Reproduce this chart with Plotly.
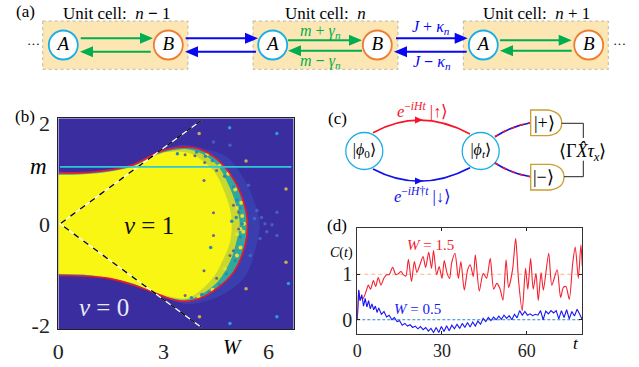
import numpy as np
import plotly.graph_objects as go

FONT = "Liberation Serif"
# ---------- panel (b) read-off data ----------
red_W = [0.03,0.71,1.48,2.14,2.71,3.10,3.62,4.05,4.52,5.00,5.29,5.40,5.33,5.00,4.52,4.05,3.62,3.19,2.76,2.14,1.48,0.71,0.03]
red_m = [0.97,0.97,1.02,1.12,1.31,1.41,1.45,1.41,1.23,0.85,0.41,0.0,-0.41,-0.92,-1.23,-1.41,-1.47,-1.42,-1.31,-1.16,-1.04,-0.99,-0.98]
yel_W = [0,0.71,1.48,2.14,2.71,3.1,3.67,4.05,4.43,4.71,4.9,4.95,4.9,4.71,4.43,4.05,3.67,3.19,2.71,2.14,1.48,0.71,0]
yel_m = [0.93,0.94,0.99,1.09,1.27,1.36,1.35,1.23,1.01,0.66,0.28,0,-0.35,-0.67,-1.01,-1.27,-1.41,-1.38,-1.29,-1.13,-1.03,-0.96,-0.95]
mid_W = [2.7,3.6,4.1,4.55,4.9,5.1,5.18,5.1,4.9,4.55,4.1,3.6,2.7]
mid_m = [1.3,1.42,1.33,1.1,0.68,0.3,0,-0.3,-0.72,-1.1,-1.33,-1.44,-1.3]
out_W = [2.9,3.6,4.2,4.8,5.3,5.6,5.75,5.65,5.35,4.8,4.2,3.6,2.9]
out_m = [1.40,1.5,1.42,1.27,0.85,0.41,0,-0.41,-0.98,-1.3,-1.47,-1.52,-1.33]
tan_W = [4.02,5.36,6.5,6.5,5.36,4.03]
tan_m = [1.71,1.19,0.66,-0.73,-1.23,-1.76]
blue_W = [6.24,4.89,6.57,6.24,4.9]
blue_m = [1.71,1.82,-1.13,-1.76,-1.89]
faint_W = [5.9,6.1,6.24,6.24,5.67,5.76,5.48,5.43,4.9,4.43,5.6,5.8,5.95]
faint_m = [0,-0.02,0.22,-0.22,0.25,-0.28,-0.6,0.73,1.49,1.55,0.1,0.12,-0.15]
dark_W = [4.18,4.16,4.43,4.43,4.16,3.62,3.9,4.52,5.0,5.15,5.15,5.0,4.9,4.52,3.62]
dark_m = [1.16,0.82,0.21,-0.22,-0.89,1.31,1.29,1.01,0.35,0.22,-0.1,-0.51,-0.6,-1.03,-1.36]
teal_W = [4.4,4.75,5.0,5.1,5.2,5.25,5.2,5.05,4.8,4.6,4.3,4.35,4.95,5.08,4.2,3.95,3.4,3.8,4.1]
teal_m = [1.2,0.9,0.7,0.45,0.3,0,-0.25,-0.7,-0.95,-1.15,-1.3,-0.45,0.05,0.12,1.28,1.36,1.33,-1.4,-1.34]
spark_W = [5.25,5.2,5.1,5.22,5.28,5.2,5.1,5.05,4.85,4.75,4.6,4.4,4.25,4.0,5.3,5.1]
spark_m = [0.15,-0.1,0.3,0.4,-0.15,-0.45,-0.6,0.65,0.95,-0.85,1.1,-1.25,1.32,-1.38,0.0,-0.2]
# ---------- panel (d) read-off data ----------
red_t = [0,.47,.94,1.5,2.1,3.1,3.9,4.7,5.7,6.5,7.4,8.4,9.4,10.4,11.3,12.5,13.7,14.5,15.5,16.3,17.2,18.1,19.2,20.2,21.1,22.2,23.3,24.2,25.3,26.3,27,28.1,29,30,30.8,31.8,32.7,33.4,34.6,35.8,36.7,37.9,39.1,40,41.1,41.8,43.2,44.6,45.8,47.1,48.3,49.4,50.5,51.6,52.7,53.6,55,56.1,57.1,58.4,59.6,60.4,61.4,62.3,63.3,64.1,65.1,65.9,67.8,68.9,70.8,72,73,73.9,75.1,76.3,77.2,78.3,79.2,79.7]
red_C = [-.01,.65,.43,.49,.47,.62,.76,.67,.86,.73,.93,.76,.91,.99,.99,1.15,.99,1.01,1.06,.99,.96,1.33,.84,1.28,1.04,1.21,1.39,1.15,1.48,1.13,1.52,.99,1.17,.91,1.30,1.02,.91,1.24,1.46,.91,1.28,.65,1.10,1.21,.95,1.43,.63,1.02,.91,1.35,.67,.80,.69,.43,1.32,.71,1.10,1.79,.88,.20,1.13,.67,1.35,.67,1.02,.42,1.04,.65,1.46,.76,1.10,.49,.71,.73,.45,1.24,1.60,.91,1.65,1.17]
blue_C_head = [0,.65,.42,.55,.30,.47,.28,.42,.24,.35,.22,.30,.16]
blue_t_head = [0,.5,1,1.6,2.2,2.8,3.4,4,4.6,5.2,5.8,6.4,7]
blue_C_tail = [.26,.12,.18,.06,.10,0,.05,-.04,-.02,-.12,-.08,-.14,-.11,-.17,-.14,-.2,-.15,-.22,-.17,-.25,-.19,-.28,-.17,-.28,-.15,-.26,-.13,-.24,-.12,-.2,-.1,-.19,-.08,-.17,-.06,-.16,-.05,-.14,-.03,-.1,.03,-.04,.05,-.02,.06,0,.08,.01,.1,.03,.09,0,.12,.04,.2,.1,.18,.1,.13,.09,.12,.1,.2,0,.19,.13,.2,.15,.2,.02,.2,.05,.22,.02,.18,.08,.23,.12,0]
blue_t = blue_t_head + list(np.linspace(7.6, 79.7, len(blue_C_tail)))
blue_C = blue_C_head + blue_C_tail
# ---------- schematic nodes ----------
node_x = [63.3,168.3,272.7,377.3,483.3,588.7]
node_y = [45]*6
node_txt = ["A","B","A","B","A","B"]
W_PX = 639; H_PX = 367
def dx(a,b): return [a/W_PX, b/W_PX]
def dy(top,bot): return [1-bot/H_PX, 1-top/H_PX]

fig = go.Figure()
def filled(xs, ys, col, op=1.0, shape="spline"):
    fig.add_trace(go.Scatter(x=xs, y=ys, mode="lines", fill="toself", fillcolor=col, opacity=op,
                             line=dict(width=0, shape=shape), hoverinfo="skip", showlegend=False, xaxis="x", yaxis="y"))
def dots(xs, ys, col, size, op=1.0):
    fig.add_trace(go.Scatter(x=xs, y=ys, mode="markers", marker=dict(color=col, size=size, opacity=op, line=dict(width=0)),
                             showlegend=False, xaxis="x", yaxis="y"))
filled([0,6.72,6.72,0],[-2,-2,2,2],"#3A2D9F",1.0,"linear")
filled(out_W, out_m, "#3E68D0", 0.3)
filled(red_W, red_m, "#2FA8A0")
filled(mid_W, mid_m, "#C8D82C")
filled(yel_W, yel_m, "#FAF614")
dots(faint_W, faint_m, "#4A80D8", 3.5, 0.6)
dots(spark_W, spark_m, "#E8E030", 4)
dots(tan_W, tan_m, "#C8AC58", 3.5)
dots(blue_W, blue_m, "#2C9CD8", 3.5)
dots(teal_W, teal_m, "#2C8CB0", 3.5)
dots(dark_W, dark_m, "#6C6490", 3)
fig.add_trace(go.Scatter(x=red_W, y=red_m, mode="lines", line=dict(color="#F01428", width=1.6, shape="spline"), showlegend=False))
wedge_W = [4.08,0.05,4.08]; wedge_m = [1.96,0,-1.96]
fig.add_trace(go.Scatter(x=wedge_W, y=wedge_m, mode="lines", line=dict(color="white", width=1.3), showlegend=False))
fig.add_trace(go.Scatter(x=wedge_W, y=wedge_m, mode="lines", line=dict(color="black", width=1.3, dash="6px,6px"), showlegend=False))
fig.add_trace(go.Scatter(x=[0.05,6.65], y=[1.08,1.08], mode="lines", line=dict(color="#2CC8D8", width=1.6), showlegend=False))

# panel (d)
fig.add_trace(go.Scatter(x=[0,79.7], y=[1,1], mode="lines", xaxis="x2", yaxis="y2", line=dict(color="#F8B48C", width=1, dash="4px,3px"), showlegend=False))
fig.add_trace(go.Scatter(x=[0,79.7], y=[0,0], mode="lines", xaxis="x2", yaxis="y2", line=dict(color="#2E86C8", width=1, dash="3px,2px"), showlegend=False))
fig.add_trace(go.Scatter(x=red_t, y=red_C, mode="lines", xaxis="x2", yaxis="y2", line=dict(color="#F42030", width=1.1, shape="spline", smoothing=0.7), showlegend=False))
fig.add_trace(go.Scatter(x=blue_t, y=blue_C, mode="lines", xaxis="x2", yaxis="y2", line=dict(color="#1818F0", width=1.1), showlegend=False))

# schematic nodes (overlay in figure px units)
fig.add_trace(go.Scatter(x=node_x, y=node_y, mode="markers+text", xaxis="x3", yaxis="y3",
    marker=dict(size=29, color="white", line=dict(width=1.8, color=["#1AAEE6","#EE7D31"]*3)),
    text=["<i>%s</i>"%t for t in node_txt], textposition="middle center",
    textfont=dict(family=FONT, size=19, color="black"), showlegend=False))
fig.add_trace(go.Scatter(x=[364.3,480.7], y=[151,151], mode="markers+text", xaxis="x3", yaxis="y3",
    marker=dict(size=37, color="white", line=dict(width=1.3, color="#1AAEE6")),
    text=["|<i>ϕ</i><sub>0</sub>⟩","|<i>ϕ<sub>t</sub></i>⟩"], textposition="middle center",
    textfont=dict(family=FONT, size=16, color="black"), showlegend=False))

shapes = []
def s(**k):
    k.setdefault("xref","x3"); k.setdefault("yref","y3"); shapes.append(k)
for x0,x1 in [(42.7,188),(253,398),(463.3,608.3)]:
    s(type="rect",x0=x0,x1=x1,y0=21,y1=69.3,fillcolor="#FCE7B4",line=dict(color="#A8A8A0",width=0.8,dash="dot"),layer="below")
def arrow(x0,x1,y,col):
    d = 1 if x1>x0 else -1
    s(type="line",x0=x0,x1=x1-d*10,y0=y,y1=y,line=dict(color=col,width=2))
    s(type="path",path=f"M {x1} {y} L {x1-d*13} {y-5.5} L {x1-d*13} {y+5.5} Z",fillcolor=col,line=dict(width=0))
G="#00AE50"; B="#0808F0"
arrow(80.7,153,38.3,G); arrow(150.7,80,51.7,G)
arrow(185.7,258,38.3,B); arrow(256,185,51.7,B)
arrow(288,362,40.3,G); arrow(362,288,50.7,G)
arrow(396,467.7,38.3,B); arrow(466.7,394,51.7,B)
arrow(500,571.7,40.3,G); arrow(571.7,500,50.7,G)
# (c) curves
s(type="path",path="M 373 132.7 Q 420 107 470 134",line=dict(color="#F51428",width=1.6))
s(type="path",path="M 373 169 Q 420 194 470 167.7",line=dict(color="#1010E8",width=1.8))
s(type="path",path="M 423 120 L 415 116.5 L 415 123.5 Z",fillcolor="#F51428",line=dict(width=0))
s(type="path",path="M 423 181 L 415 177.5 L 415 184.5 Z",fillcolor="#1010E8",line=dict(width=0))
for p in ["M 495 136.7 Q 512 126 530.7 122.7","M 495 163 Q 512 174 530.7 176.7"]:
    s(type="path",path=p,line=dict(color="#1010E8",width=1.6))
    s(type="path",path=p,line=dict(color="#F51428",width=1.6,dash="4px,5px"))
s(type="path",path="M 530.7 110 L 548 110 Q 561.7 112 561.7 123 Q 561.7 134 548 135.7 L 530.7 135.7 Z",fillcolor="white",line=dict(color="#C8A030",width=1.3))
s(type="path",path="M 530.7 164.3 L 550 164.3 Q 564 166 564 177 Q 564 188 550 190 L 530.7 190 Z",fillcolor="white",line=dict(color="#C8A030",width=1.3))
s(type="path",path="M 561.7 123.3 L 583.3 123.3 L 583.3 138",line=dict(color="#222",width=1))
s(type="path",path="M 564 176.7 L 583.3 176.7 L 583.3 160.7",line=dict(color="#222",width=1))

ann = []
def t(x,y,text,size=13,color="black"):
    ann.append(dict(x=x,y=y,xref="x3",yref="y3",text=text,showarrow=False,xanchor="center",yanchor="middle",
                    font=dict(family=FONT,size=size,color=color)))
t(25,11,"(a)",17); t(25,116,"(b)",17); t(337,118,"(c)",17); t(337,225.7,"(d)",17)
t(116,13,"Unit cell:  <i>n</i> <b>−</b> 1",17); t(325,13,"Unit cell:  <i>n</i>",17); t(536,13,"Unit cell:  <i>n</i> + 1",17)
t(33,43,"···",13); t(619,43,"···",13)
t(320,31,"<i>m</i> + <i>γ<sub>n</sub></i>",16,"#00AE50"); t(320,61,"<i>m</i> <b>−</b> <i>γ<sub>n</sub></i>",16,"#00AE50")
t(431,27,"<i>J</i> + <i>κ<sub>n</sub></i>",16,"#0808F0"); t(432,62,"<i>J</i> <b>−</b> <i>κ<sub>n</sub></i>",16,"#0808F0")
t(38,166,"<i>m</i>",23); t(233,347,"<i>W</i>",21)
t(149,225,"<i>ν</i> = 1",25,"#111"); t(104,307,"<i>ν</i> = 0",25,"#E8E8F8")
t(422,110.5,"<i>e</i><sup>−<i>iHt</i></sup> |↑⟩",16.5,"#F51428"); t(422,195,"<i>e</i><sup>−<i>iH</i>†<i>t</i></sup> |↓⟩",16.5,"#1010E8")
t(544,122.5,"|+⟩",18); t(543,177,"|−⟩",18); t(582,152.5,"⟨Γ<i>X̂τ<sub>x</sub></i>⟩",18)
t(341,252.7,"<i>C</i>(<i>t</i>)",14); t(576,343,"<i>t</i>",17)
t(430,245,"<i>W</i> = 1.5",15,"#F42030"); t(417,309,"<i>W</i> = 0.5",15,"#1818F0")

fig.update_layout(
    width=W_PX,height=H_PX,margin=dict(l=0,r=0,t=0,b=0),paper_bgcolor="white",plot_bgcolor="rgba(0,0,0,0)",
    showlegend=False,shapes=shapes,annotations=ann,font=dict(family=FONT,color="#222"),
    xaxis=dict(domain=dx(58.3,293.7),range=[0,6.72],tickvals=[0,3,6],ticks="",showgrid=False,zeroline=False,automargin=False,
               showline=True,linecolor="#222",linewidth=1,mirror=True,tickfont=dict(family=FONT,size=22,color="#222"),ticklabelstandoff=2,anchor="y"),
    yaxis=dict(domain=dy(118.3,329.3),range=[-2,2],tickvals=[-1.92,0,1.9],ticktext=["-2","0","2"],ticks="",showgrid=False,zeroline=False,automargin=False,
               showline=True,linecolor="#222",linewidth=1,mirror=True,tickfont=dict(family=FONT,size=22,color="#222"),ticklabelstandoff=3,anchor="x"),
    xaxis2=dict(domain=dx(357.3,582.3),range=[0,79.7],tickvals=[0,30,60],ticks="inside",ticklen=3,tickcolor="#222",showgrid=False,zeroline=False,automargin=False,
               showline=True,linecolor="#333",linewidth=1,mirror="ticks",tickfont=dict(family=FONT,size=18,color="#222"),anchor="y2"),
    yaxis2=dict(domain=dy(228.3,334.3),range=[-0.32,2.01],tickvals=[0,1],ticks="inside",ticklen=3,tickcolor="#222",showgrid=False,zeroline=False,automargin=False,
               showline=True,linecolor="#333",linewidth=1,mirror="ticks",tickfont=dict(family=FONT,size=20,color="#222"),anchor="x2"),
    xaxis3=dict(domain=[0,1],range=[0,W_PX],visible=False,anchor="y3",fixedrange=True,automargin=False),
    yaxis3=dict(domain=[0,1],range=[H_PX,0],visible=False,anchor="x3",fixedrange=True,automargin=False),
)
fig.write_html("out.html", config={"displayModeBar":False}, post_script="document.body.style.margin='0';document.documentElement.style.overflow='hidden';")
